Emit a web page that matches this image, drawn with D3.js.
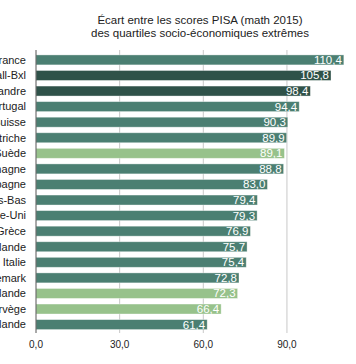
<!DOCTYPE html>
<html><head><meta charset="utf-8">
<script src="https://cdn.jsdelivr.net/npm/d3@7"></script>
<style>body{margin:0;background:#fff;}svg{display:block;font-family:"Liberation Sans",Arial,sans-serif;}</style>
</head><body>
<svg id="c" width="356" height="364"></svg>
<script>
const countries = ["France","Wall-Bxl","Flandre","Portugal","Suisse","Autriche","Suède","Allemagne","Espagne","Pays-Bas","Royaume-Uni","Grèce","Irlande","Italie","Danemark","Finlande","Norvège","Islande"];
const values = [110.4,105.8,98.4,94.4,90.3,89.9,89.1,88.8,83.0,79.4,79.3,76.9,75.7,75.4,72.8,72.3,66.4,61.4];
const groups = ["mid","dark","dark","mid","mid","mid","light","mid","mid","mid","mid","mid","mid","mid","mid","light","light","mid"];
const ticks = [0,30,60,90];
const titleLines = ["Écart entre les scores PISA (math 2015)","des quartiles socio-économiques extrêmes"];
const colors = {mid:"#4b7f72", dark:"#2f5249", light:"#97c28b"};

const svg = d3.select("#c");
const x = d3.scaleLinear().domain([0,60]).range([36,203.3]);
const y = d3.scaleBand().domain(countries).range([51.5,333]).paddingInner(0.36).paddingOuter(0.22);
const fmt = v => d3.format(".1f")(v).replace(".",",");

svg.append("g").selectAll("text").data(titleLines).join("text")
  .attr("x",200).attr("y",(d,i)=>23.5+i*13.5).attr("text-anchor","middle")
  .attr("font-size",11.5).attr("fill","#222").text(d=>d);

// gridlines
svg.append("g").selectAll("line").data(ticks.slice(1)).join("line")
  .attr("x1",d=>x(d)).attr("x2",d=>x(d)).attr("y1",50).attr("y2",333)
  .attr("stroke","#c8c8c8").attr("stroke-width",1);

// bars
svg.append("g").selectAll("rect").data(countries).join("rect")
  .attr("x",x(0)).attr("y",d=>y(d)).attr("width",(d,i)=>x(values[i])-x(0)).attr("height",y.bandwidth())
  .attr("fill",(d,i)=>colors[groups[i]]).attr("stroke","rgba(255,255,255,0.45)").attr("stroke-width",0.8);

// value labels
svg.append("g").selectAll("text").data(countries).join("text")
  .attr("x",(d,i)=>x(values[i])-2).attr("y",d=>y(d)+y.bandwidth()/2+4)
  .attr("text-anchor","end").attr("font-size",11.5).attr("fill","#fff")
  .text((d,i)=>fmt(values[i]));

// category labels
svg.append("g").selectAll("text").data(countries).join("text")
  .attr("x",26).attr("y",d=>y(d)+y.bandwidth()/2+3.8)
  .attr("text-anchor","end").attr("font-size",11).attr("fill","#222").text(d=>d);

// axis line
svg.append("line").attr("x1",x(0)).attr("x2",x(0)).attr("y1",50).attr("y2",333)
  .attr("stroke","#555").attr("stroke-width",1);

// tick labels
svg.append("g").selectAll("text").data(ticks).join("text")
  .attr("x",d=>x(d)).attr("y",348).attr("text-anchor","middle")
  .attr("font-size",10).attr("fill","#222").text(d=>fmt(d));
</script>
</body></html>
